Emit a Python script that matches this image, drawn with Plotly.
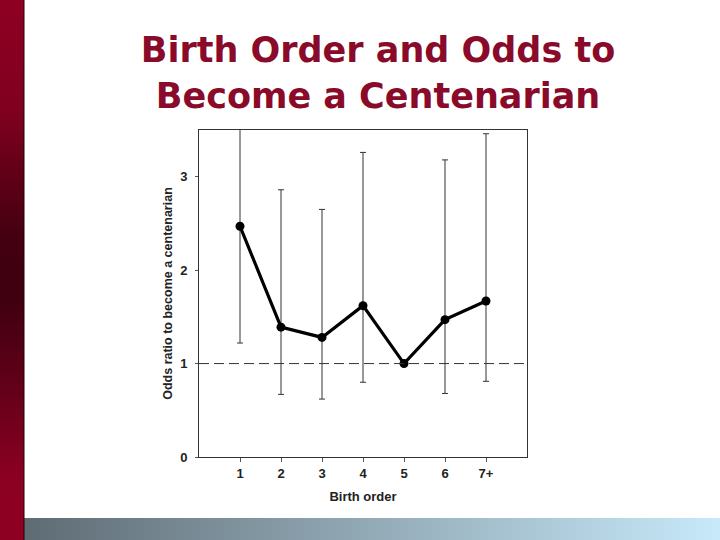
import plotly.graph_objects as go

# ---- data ----
birth_order = ["1", "2", "3", "4", "5", "6", "7+"]
odds_ratio = [2.47, 1.39, 1.28, 1.62, 1.00, 1.47, 1.67]
ci_upper = [3.75, 2.86, 2.65, 3.26, 1.00, 3.18, 3.46]
ci_lower = [1.22, 0.67, 0.62, 0.80, 1.00, 0.68, 0.81]
y_ticks = [0, 1, 2, 3]

err_plus = [u - v for u, v in zip(ci_upper, odds_ratio)]
err_minus = [v - l for v, l in zip(odds_ratio, ci_lower)]

W, H = 720, 540
L, R, T, B = 199, 193, 130, 83
PW, PH = W - L - R, H - T - B


def px(x):
    return (x - L) / PW


def py(y):
    return (H - B - y) / PH


def lerp(c1, c2, t):
    return tuple(round(a + (b - a) * t) for a, b in zip(c1, c2))


shapes = []

# left decorative bar (vertical gradient red -> dark -> red)
stops = [(0, (142, 0, 34)), (110, (128, 0, 32)), (240, (66, 0, 16)),
         (300, (64, 0, 16)), (390, (100, 0, 26)), (480, (140, 0, 34)), (540, (142, 0, 34))]
step = 6
for y0 in range(0, 540, step):
    yc = y0 + step / 2
    for (a, ca), (b, cb) in zip(stops[:-1], stops[1:]):
        if a <= yc <= b:
            c = lerp(ca, cb, (yc - a) / (b - a))
            break
    shapes.append(dict(type="rect", xref="paper", yref="paper",
                       x0=px(0), x1=px(24), y0=py(y0), y1=py(y0 + step + 0.5),
                       fillcolor="rgb(%d,%d,%d)" % c, line=dict(width=0), layer="below"))
shapes.append(dict(type="line", xref="paper", yref="paper", x0=px(24), x1=px(24),
                   y0=py(0), y1=py(540), line=dict(color="#200008", width=1)))

# bottom decorative bar (horizontal gradient)
c_left, c_right = (95, 108, 116), (200, 234, 251)
stepx = 8
for x0 in range(24, 720, stepx):
    t = (x0 - 24) / (720 - 24)
    c = lerp(c_left, c_right, t)
    shapes.append(dict(type="rect", xref="paper", yref="paper",
                       x0=px(x0), x1=px(x0 + stepx + 0.5), y0=py(518), y1=py(540),
                       fillcolor="rgb(%d,%d,%d)" % c, line=dict(width=0), layer="below"))

# reference line at odds ratio 1
shapes.append(dict(type="line", xref="paper", yref="y", x0=0, x1=1, y0=1, y1=1,
                   line=dict(color="#333333", width=1, dash="10px,5px")))

fig = go.Figure()
fig.add_trace(go.Scatter(
    x=birth_order, y=odds_ratio, mode="lines+markers",
    line=dict(color="black", width=3.2),
    marker=dict(color="black", size=9),
    error_y=dict(type="data", symmetric=False, array=err_plus, arrayminus=err_minus,
                 color="#333333", thickness=1, width=3),
    showlegend=False,
))

axis_font = dict(family="Liberation Sans, Arial", size=13, color="#222222", weight="bold")

fig.update_layout(
    width=W, height=H,
    margin=dict(l=L, r=R, t=T, b=B),
    paper_bgcolor="white", plot_bgcolor="white",
    shapes=shapes,
    title=dict(text="Birth Order and Odds to<br>Become a Centenarian",
               x=378 / W, xanchor="center", xref="container",
               y=1 - 62 / H, yanchor="middle", yref="container",
               font=dict(family="DejaVu Sans", size=35,
                         color="#8a0a2a", weight="bold")),
    xaxis=dict(type="category", range=[-1, 7], showgrid=False, zeroline=False,
               showline=True, linecolor="#333333", linewidth=1, mirror=True,
               ticks="outside", ticklen=4, tickcolor="#555555",
               tickfont=axis_font,
               title=dict(text="Birth order", font=dict(family="Liberation Sans, Arial", size=13,
                                                       color="#222222", weight="bold"),
                          standoff=12)),
    yaxis=dict(range=[0, 3.5], tickvals=y_ticks, showgrid=False, zeroline=False,
               showline=True, linecolor="#333333", linewidth=1, mirror=True,
               ticks="outside", ticklen=3, tickcolor="#555555", ticklabelstandoff=5,
               tickfont=axis_font,
               title=dict(text="Odds ratio to become a centenarian",
                          font=dict(family="Liberation Sans, Arial", size=12.5,
                                    color="#222222", weight="bold"),
                          standoff=4)),
)

fig.write_html("out.html", config={"displayModeBar": False},
               post_script="document.body.style.margin='0';document.body.style.overflow='hidden';")
